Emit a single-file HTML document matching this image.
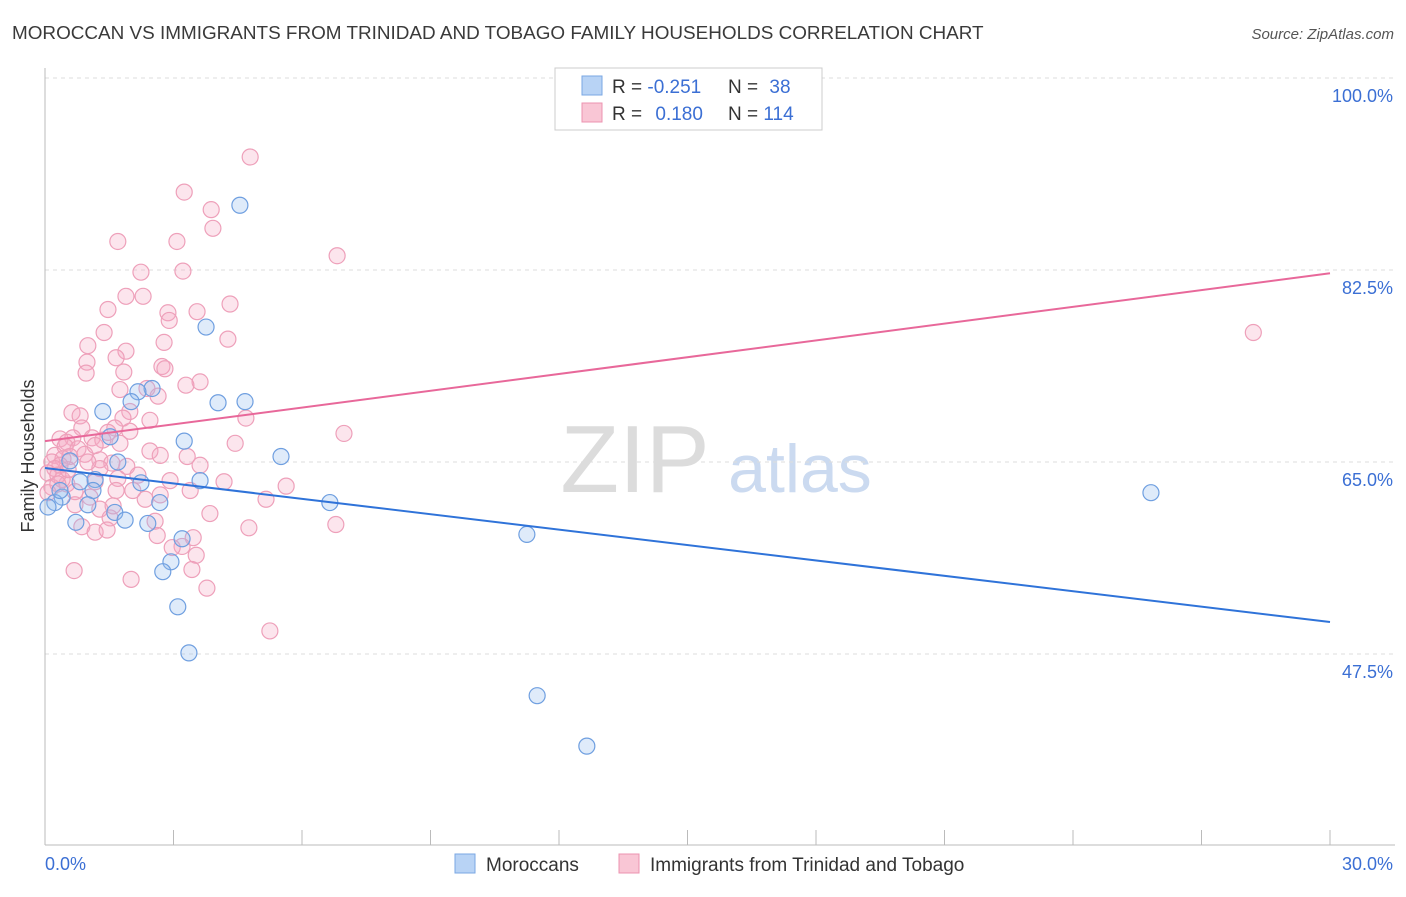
<!DOCTYPE html>
<html><head><meta charset="utf-8"><style>
body{margin:0;background:#fff;font-family:"Liberation Sans",sans-serif;}
svg text{font-family:"Liberation Sans",sans-serif;}
</style></head><body>
<svg id="chart" width="1406" height="892">
<text x="12" y="39" font-size="18.9" fill="#3a3a3a">MOROCCAN VS IMMIGRANTS FROM TRINIDAD AND TOBAGO FAMILY HOUSEHOLDS CORRELATION CHART</text>
<text x="1394" y="39" font-size="15" fill="#555" text-anchor="end" font-style="italic">Source: ZipAtlas.com</text>
<text x="0" y="0" transform="translate(34,456) rotate(-90)" font-size="18" fill="#333" text-anchor="middle">Family Households</text>
<text x="635" y="492" font-size="96" fill="#dcdcdc" font-family="Liberation Serif" text-anchor="middle">ZIP</text>
<text x="800" y="492" font-size="68" fill="#cbdaf0" text-anchor="middle">atlas</text>
<g id="grid"></g><g id="axes"></g><g id="pts"></g><g id="lines"></g>
<g>
<rect x="555" y="68" width="267" height="62" fill="#fff" stroke="#ccc"/>
<rect x="582" y="76" width="20" height="19" fill="#b8d3f5" stroke="#7aa7e3"/>
<rect x="582" y="103" width="20" height="19" fill="#f9c6d5" stroke="#ec93b0"/>
<text x="612" y="93" font-size="19" fill="#333">R = <tspan fill="#3b6fd4">-0.251</tspan></text>
<text x="728" y="93" font-size="19" fill="#333">N = <tspan fill="#3b6fd4" dx="6">38</tspan></text>
<text x="612" y="120" font-size="19" fill="#333">R = <tspan fill="#3b6fd4" dx="8">0.180</tspan></text>
<text x="728" y="120" font-size="19" fill="#333">N = <tspan fill="#3b6fd4">114</tspan></text>
</g>
<g>
<rect x="455" y="854" width="20" height="19" fill="#b8d3f5" stroke="#7aa7e3"/>
<text x="486" y="871" font-size="19" fill="#333">Moroccans</text>
<rect x="619" y="854" width="20" height="19" fill="#f9c6d5" stroke="#ec93b0"/>
<text x="650" y="871" font-size="19" fill="#333">Immigrants from Trinidad and Tobago</text>
</g>
</svg>
<script>
const blueX=[4.55,3.76,2.50,2.17,2.01,4.04,4.67,1.35,1.52,3.25,5.51,1.70,0.58,3.62,2.24,0.82,1.17,1.12,0.40,0.23,0.07,2.68,6.65,1.63,1.87,0.72,2.40,3.20,11.25,2.94,2.75,3.10,3.36,11.49,12.65,25.82,1.00,0.35];
const blueY=[88.4,77.3,71.7,71.4,70.5,70.4,70.5,69.6,67.3,66.9,65.5,65.0,65.1,63.3,63.1,63.2,63.4,62.4,61.8,61.3,60.9,61.3,61.3,60.4,59.7,59.5,59.4,58.0,58.4,55.9,55.0,51.8,47.6,43.7,39.1,62.2,61.1,62.4];
const pinkX=[4.79,3.25,3.88,3.92,6.82,1.70,3.08,3.22,2.24,1.89,2.29,4.32,1.47,2.87,3.55,2.90,1.38,4.27,2.78,1.00,1.89,1.66,0.98,2.73,0.96,1.84,2.80,3.62,3.29,2.38,1.75,2.64,1.98,0.63,0.82,4.69,1.82,1.63,0.86,1.47,0.65,1.10,4.44,6.98,0.35,0.51,1.35,1.98,0.47,0.77,0.23,0.58,0.42,0.16,0.35,1.28,1.56,2.45,2.69,3.32,1.91,1.28,0.23,0.07,4.18,1.70,1.17,0.51,0.16,5.63,1.66,2.05,2.69,3.39,5.16,1.05,2.34,0.07,0.70,1.28,3.85,1.52,2.57,4.76,6.79,0.86,1.17,1.45,2.62,3.46,3.20,3.53,2.97,0.68,2.01,3.43,3.78,5.25,28.21,0.40,0.30,0.93,0.54,1.75,2.17,3.62,0.70,1.17,2.92,2.45,0.30,1.59,1.00];
const pinkY=[92.8,89.6,88.0,86.3,83.8,85.1,85.1,82.4,82.3,80.1,80.1,79.4,78.9,78.6,78.7,77.9,76.8,76.2,75.9,75.6,75.1,74.5,74.1,73.7,73.1,73.2,73.5,72.3,72.0,71.7,71.6,71.0,69.6,69.5,69.2,69.0,69.0,68.1,68.1,67.7,67.2,67.2,66.7,67.6,67.1,66.8,67.0,67.8,66.4,66.2,65.6,65.5,65.3,65.0,64.7,65.2,64.9,66.0,65.6,65.5,64.6,64.4,64.4,64.0,63.2,63.5,63.2,63.0,62.7,62.8,62.4,62.4,62.0,62.4,61.6,61.8,61.6,62.2,61.1,60.7,60.3,59.9,59.6,59.0,59.3,59.1,58.6,58.8,58.3,58.1,57.3,56.5,57.2,55.1,54.3,55.2,53.5,49.6,76.8,63.4,63.8,65.7,64.3,66.7,63.8,64.7,62.3,66.5,63.3,68.8,63.0,61.0,65.0];
const trendIntercept=[64.45,66.9];
const trendSlope=[-0.468,0.51];
const yTicks=[100,82.5,65,47.5];
const yTickLabels=["100.0%","82.5%","65.0%","47.5%"];
const xTickLabels=["0.0%","30.0%"];
const NS='http://www.w3.org/2000/svg';
const X0=45,X1=1330,Y100=78,PPU=10.971;
const sx=v=>X0+(v/30)*(X1-X0);
const sy=v=>Y100+(100-v)*PPU;
function mk(tag,attrs,parent){const e=document.createElementNS(NS,tag);for(const k in attrs)e.setAttribute(k,attrs[k]);parent.appendChild(e);return e;}
const grid=document.getElementById('grid'),axes=document.getElementById('axes'),pts=document.getElementById('pts'),lines=document.getElementById('lines');
yTicks.forEach((t,i)=>{
 const l=mk('line',{x1:X0,x2:1395,y1:sy(t),y2:sy(t),stroke:'#ddd','stroke-dasharray':'4,4'},grid);
 
 
 const tx=mk('text',{x:1393,y:sy(t)+24,'font-size':18,fill:'#3b6fd4','text-anchor':'end'},axes);
 tx.textContent=yTickLabels[i];
 
 
});
let a=mk('line',{x1:X0,x2:X0,y1:68,y2:845,stroke:'#bbb'},axes);


a=mk('line',{x1:X0,x2:1395,y1:845,y2:845,stroke:'#bbb'},axes);


for(let k=0;k<=10;k++){
 const t=mk('line',{x1:sx(k*3),x2:sx(k*3),y1:830,y2:845,stroke:'#bbb'},axes);
 
 
}
[[0,'start',45],[30,'end',1393]].forEach((d,i)=>{
 const tx=mk('text',{x:d[2],y:870,'font-size':18,fill:'#3b6fd4','text-anchor':d[1]},axes);
 tx.textContent=xTickLabels[i];
 
 
});
pinkX.forEach((x,i)=>{
 const c=mk('circle',{cx:sx(x),cy:sy(pinkY[i]),r:8,fill:'rgba(246,170,195,0.3)',stroke:'#eea0ba','stroke-width':1.2},pts);
 
 
});
blueX.forEach((x,i)=>{
 const c=mk('circle',{cx:sx(x),cy:sy(blueY[i]),r:8,fill:'rgba(150,190,240,0.3)',stroke:'#6f9fe0','stroke-width':1.2},pts);
 
 
});
['#2f73d9','#e8689a'].forEach((col,i)=>{
 const l=mk('line',{x1:sx(0),y1:sy(trendIntercept[i]),x2:sx(30),y2:sy(trendIntercept[i]+30*trendSlope[i]),stroke:col,'stroke-width':2},lines);
 
 
});
</script>
</body></html>
